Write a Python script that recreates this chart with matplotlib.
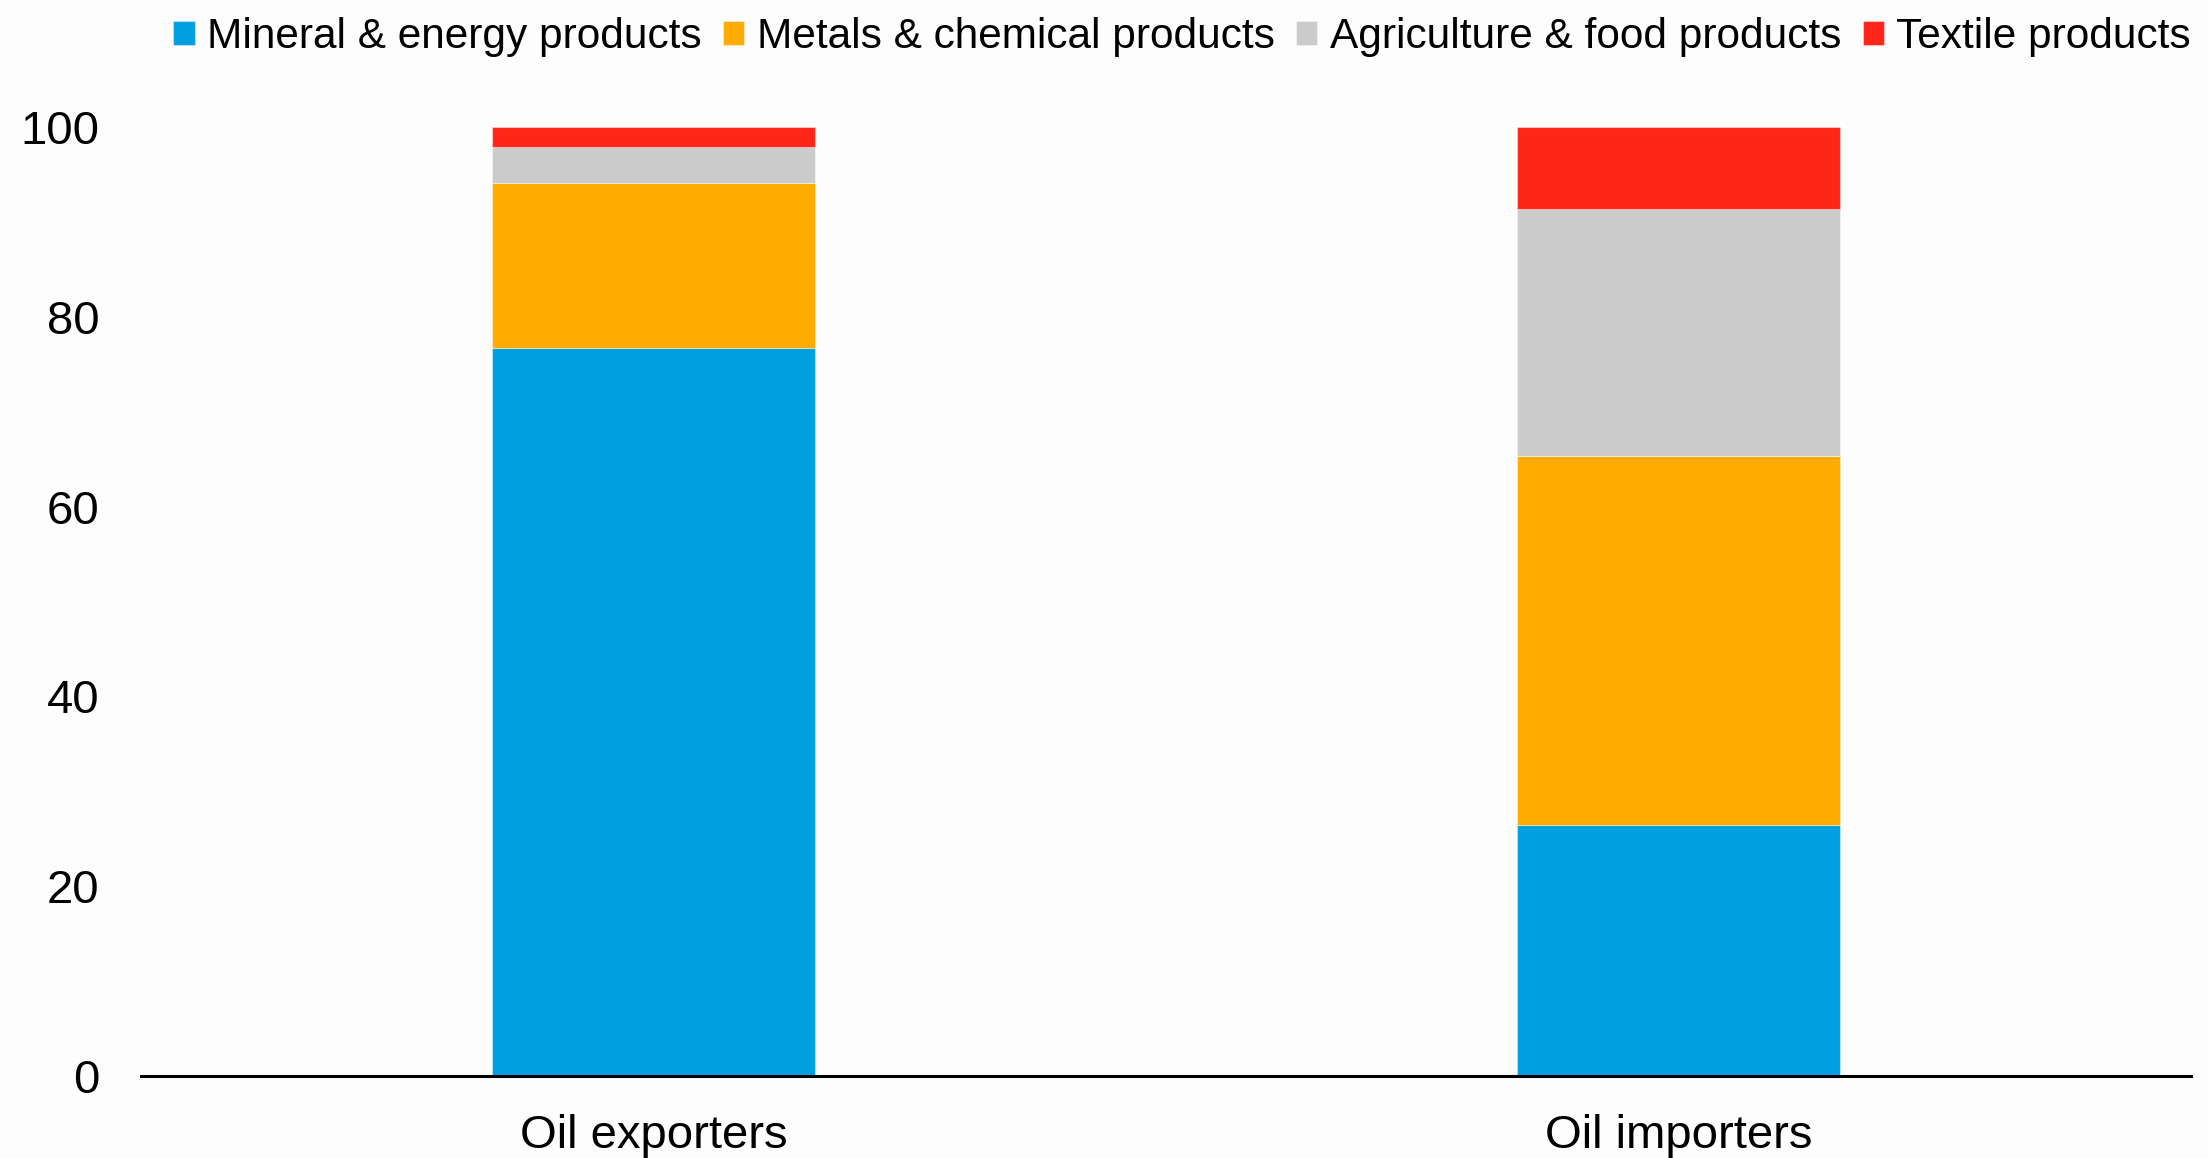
import matplotlib
matplotlib.use("Agg")
import matplotlib.pyplot as plt
import numpy as np

plt.rcParams['font.family'] = ['Liberation Sans', 'DejaVu Sans']

categories = ["Oil exporters", "Oil importers"]
series_names = ["Mineral & energy products", "Metals & chemical products",
                "Agriculture & food products", "Textile products"]
mineral = [76.7, 26.4]
metals = [17.4, 38.9]
agriculture = [3.8, 26.1]
textile = [2.1, 8.6]
colors = ["#009FE0", "#FFAB00", "#CBCBCB", "#FF2519"]
yticks = [0, 20, 40, 60, 80, 100]

bg = "#fdfdfd"
fig = plt.figure(figsize=(22.08, 11.58), dpi=100, facecolor=bg)
ax = fig.add_axes([0.0639, 0.0708, 0.9284, 0.8195], facecolor=bg)

x = np.arange(len(categories))
bottom = np.zeros(len(categories))
handles = []
for name, vals, c in zip(series_names, [mineral, metals, agriculture, textile], colors):
    b = ax.bar(x, vals, width=0.315, bottom=bottom, color=c, label=name,
               edgecolor=(1, 1, 1, 0.4), linewidth=0.8)
    bottom += np.array(vals)
    handles.append(b)

ax.set_xlim(-0.5, 1.5)
ax.set_ylim(0, 100)
ax.set_yticks(yticks)
ax.set_xticks(x)
ax.set_xticklabels(categories)
ax.tick_params(axis='both', length=0, labelsize=34)
ax.tick_params(axis='y', pad=30)
ax.tick_params(axis='x', pad=27)
for s in ['top', 'right', 'left']:
    ax.spines[s].set_visible(False)
ax.spines['bottom'].set_linewidth(2.2)
ax.spines['bottom'].set_color('black')

fig.legend(handles=handles, labels=series_names, loc='upper right',
           bbox_to_anchor=(1.0, 1.0), ncol=4, frameon=False, fontsize=30.5,
           handlelength=0.5, handleheight=0.5, handletextpad=0.3,
           columnspacing=0.5, borderaxespad=0.2, borderpad=0.2)

fig.savefig("out.png", dpi=100, facecolor=bg)
